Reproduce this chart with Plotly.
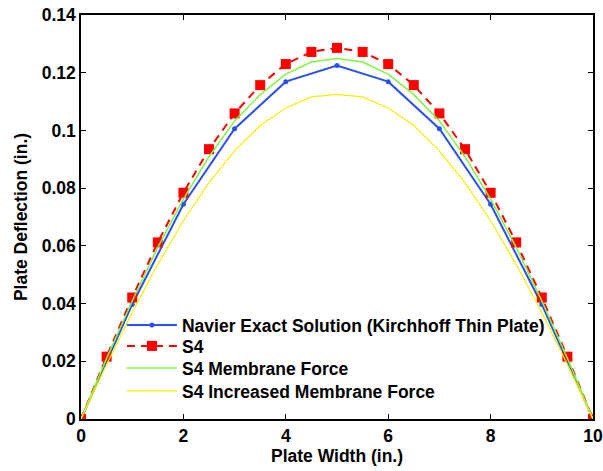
import plotly.graph_objects as go

# Deflection along the plate width (in.)
x_half = [0, 0.5, 1, 1.5, 2, 2.5, 3, 3.5, 4, 4.5, 5, 5.5, 6, 6.5, 7, 7.5, 8, 8.5, 9, 9.5, 10]
x_int = [0, 1, 2, 3, 4, 5, 6, 7, 8, 9, 10]

navier = [0, 0.0397, 0.0744, 0.1006, 0.1169, 0.1225, 0.1169, 0.1006, 0.0744, 0.0397, 0]
s4 = [0, 0.0216, 0.0421, 0.0612, 0.0784, 0.0935, 0.1059, 0.1157, 0.1230, 0.1272, 0.1286,
      0.1272, 0.1230, 0.1157, 0.1059, 0.0935, 0.0784, 0.0612, 0.0421, 0.0216, 0]
s4_membrane = [0, 0.0210, 0.0409, 0.0595, 0.0762, 0.0909, 0.1033, 0.1124, 0.1195, 0.1237, 0.1249,
               0.1237, 0.1195, 0.1124, 0.1033, 0.0909, 0.0762, 0.0595, 0.0409, 0.0210, 0]
s4_inc_membrane = [0, 0.0189, 0.0369, 0.0536, 0.0687, 0.0819, 0.0929, 0.1017, 0.1078, 0.1116, 0.1125,
                   0.1116, 0.1078, 0.1017, 0.0929, 0.0819, 0.0687, 0.0536, 0.0369, 0.0189, 0]

names = ["Navier Exact Solution (Kirchhoff Thin Plate)", "S4",
         "S4 Membrane Force", "S4 Increased Membrane Force"]

x_ticks = [0, 2, 4, 6, 8, 10]
y_ticks = [0, 0.02, 0.04, 0.06, 0.08, 0.1, 0.12, 0.14]
y_tick_text = ["0", "0.02", "0.04", "0.06", "0.08", "0.1", "0.12", "0.14"]

FONT = "Liberation Sans"
FS = 17.5

fig = go.Figure()
fig.add_trace(go.Scatter(x=x_int, y=navier, name=names[0], mode="lines+markers",
                         legend="legend",
                         line=dict(color="#2b50f2", width=2),
                         marker=dict(symbol="circle", size=5, color="#2b50f2")))
fig.add_trace(go.Scatter(x=x_half, y=s4, name=names[1], mode="lines+markers",
                         legend="legend2",
                         line=dict(color="#ff0000", width=2, dash="8px,6px"),
                         marker=dict(symbol="square", size=10, color="#ff0000")))
fig.add_trace(go.Scatter(x=x_half, y=s4_membrane, name=names[2], mode="lines",
                         legend="legend3",
                         line=dict(color="#80f540", width=1.5)))
fig.add_trace(go.Scatter(x=x_half, y=s4_inc_membrane, name=names[3], mode="lines",
                         legend="legend4",
                         line=dict(color="#f5f000", width=1.2)))

axis_common = dict(showline=True, linecolor="black", linewidth=1.5, mirror="ticks",
                   ticks="inside", ticklen=5, tickwidth=1, tickcolor="black",
                   showgrid=False, zeroline=False, automargin=False,
                   tickfont=dict(family=FONT, size=FS, color="black", weight="bold"))

fig.update_xaxes(range=[0, 10], tickvals=x_ticks,
                 title=dict(text="Plate Width (in.)", standoff=2,
                            font=dict(family=FONT, size=FS, color="black", weight="bold")),
                 **axis_common)
fig.update_yaxes(range=[0, 0.14], tickvals=y_ticks, ticktext=y_tick_text,
                 title=dict(text="Plate Deflection (in.)", standoff=10,
                            font=dict(family=FONT, size=FS, color="black", weight="bold")),
                 **axis_common)

# one legend box per entry so the rows sit tightly stacked
legend_rows = [0.2325, 0.1806, 0.1261, 0.0693]
legend_style = dict(x=0.08, xanchor="left", yanchor="middle",
                    bgcolor="rgba(0,0,0,0)", borderwidth=0, itemwidth=50,
                    font=dict(family=FONT, size=FS, color="black", weight="bold"))

fig.update_layout(
    width=603, height=471,
    margin=dict(l=81, r=10, t=15, b=52),
    paper_bgcolor="white", plot_bgcolor="white",
    showlegend=True,
    legend=dict(y=legend_rows[0], **legend_style),
    legend2=dict(y=legend_rows[1], **legend_style),
    legend3=dict(y=legend_rows[2], **legend_style),
    legend4=dict(y=legend_rows[3], **legend_style),
)

fig.write_html("out.html")
